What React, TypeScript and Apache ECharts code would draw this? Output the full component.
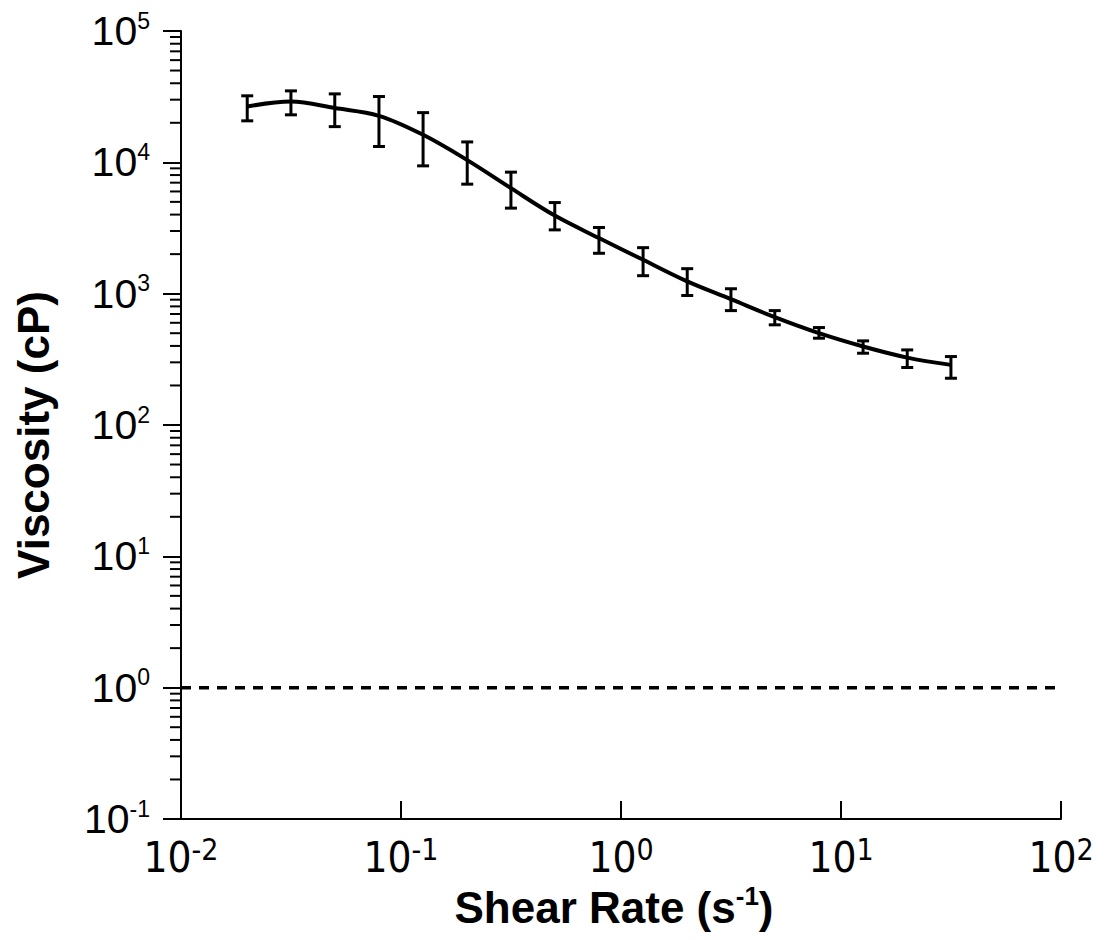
import React, { useEffect, useRef } from "react";
import * as echarts from "echarts";

// Shear rate (s^-1) of each measured point
const SHEAR_RATE = [0.02, 0.0316, 0.05, 0.0794, 0.126, 0.2, 0.316, 0.5, 0.794, 1.26, 2, 3.16, 5, 7.94, 12.6, 20, 31.6];
// Mean viscosity (cP)
const VISCOSITY = [26600, 29000, 25900, 22600, 16200, 10400, 6360, 3930, 2650, 1810, 1240, 908, 662, 500, 396, 326, 287];
// Error bar upper / lower ends (cP)
const ERR_HIGH = [32100, 35000, 33200, 31700, 23900, 14300, 8420, 4940, 3190, 2240, 1550, 1090, 743, 552, 437, 373, 332];
const ERR_LOW = [20700, 23000, 18700, 13200, 9400, 6820, 4480, 3060, 2030, 1370, 968, 743, 579, 458, 352, 274, 227];
// Reference line (water, 1 cP) across the x range
const REF_X = [0.01, 100];
const REF_Y = [1, 1];
// Axis ranges
const X_RANGE = [0.01, 100];
const Y_RANGE = [0.1, 100000];
// Log minor ticks on the y axis
const Y_DECADES = [0.1, 1, 10, 100, 1000, 10000];
const MINOR_MULTIPLES = [2, 3, 4, 5, 6, 7, 8, 9];

const FONT = "'Liberation Sans', Arial, Helvetica, sans-serif";
const NARROW = "'Liberation Sans Narrow', 'DejaVu Sans Condensed', 'Arial Narrow', sans-serif";

const expOf = (v: number) => Math.round(Math.log10(v));

export default function App() {
  const ref = useRef<HTMLDivElement | null>(null);

  useEffect(() => {
    if (!ref.current) return;
    const chart = echarts.init(ref.current, null, { renderer: "svg" });

    const lineData = SHEAR_RATE.map((x, i) => [x, VISCOSITY[i]]);
    const errData = SHEAR_RATE.map((x, i) => [x, ERR_LOW[i], ERR_HIGH[i]]);
    const minorData: number[][] = [];
    Y_DECADES.forEach((d) => MINOR_MULTIPLES.forEach((m) => minorData.push([X_RANGE[0], d * m])));

    chart.setOption({
      animation: false,
      backgroundColor: "#ffffff",
      grid: { left: 181, right: 47, top: 31, bottom: 121, containLabel: false },
      xAxis: {
        type: "log",
        logBase: 10,
        min: X_RANGE[0],
        max: X_RANGE[1],
        interval: 1,
        name: "Shear Rate (s{sup|-1})",
        nameLocation: "middle",
        nameGap: 62,
        nameTextStyle: {
          fontFamily: FONT,
          fontSize: 44,
          fontWeight: "bold",
          color: "#000",
          lineHeight: 50,
          padding: [0, 14, 0, 0],
          rich: {
            sup: { fontFamily: FONT, fontSize: 26, fontWeight: "bold", color: "#000", lineHeight: 34, verticalAlign: "top" },
          },
        },
        axisLine: { show: true, lineStyle: { color: "#000", width: 2 } },
        axisTick: { show: true, inside: true, length: 18, lineStyle: { color: "#000", width: 2 } },
        minorTick: { show: false },
        splitLine: { show: false },
        axisLabel: {
          margin: 15,
          formatter: (v: number) => `{b|10}{s|${expOf(v)}}`,
          rich: {
            b: { fontFamily: NARROW, fontSize: 42, color: "#000", lineHeight: 46 },
            s: { fontFamily: NARROW, fontSize: 30, color: "#000", lineHeight: 22, verticalAlign: "top" },
          },
        },
      },
      yAxis: {
        type: "log",
        logBase: 10,
        min: Y_RANGE[0],
        max: Y_RANGE[1],
        interval: 1,
        name: "Viscosity (cP)",
        nameLocation: "middle",
        nameGap: 123,
        nameRotate: 90,
        nameTextStyle: { fontFamily: FONT, fontSize: 44, fontWeight: "bold", color: "#000", lineHeight: 50, padding: [0, 20, 0, 0] },
        axisLine: { show: true, lineStyle: { color: "#000", width: 2 } },
        axisTick: { show: true, inside: false, length: 18, lineStyle: { color: "#000", width: 2 } },
        minorTick: { show: false },
        splitLine: { show: false },
        axisLabel: {
          margin: 31,
          formatter: (v: number) => `{b|10}{s|${expOf(v)}}`,
          rich: {
            b: { fontFamily: FONT, fontSize: 41, color: "#000", lineHeight: 44 },
            s: { fontFamily: FONT, fontSize: 23, color: "#000", lineHeight: 27, verticalAlign: "top" },
          },
        },
      },
      series: [
        {
          name: "minorTicks",
          type: "custom",
          clip: false,
          silent: true,
          data: minorData,
          renderItem: (_params: any, api: any) => {
            const p = api.coord([api.value(0), api.value(1)]);
            return {
              type: "line",
              shape: { x1: p[0] - 11, y1: p[1], x2: p[0], y2: p[1] },
              style: { stroke: "#000", lineWidth: 2 },
            };
          },
        },
        {
          name: "reference",
          type: "line",
          data: REF_X.map((x, i) => [x, REF_Y[i]]),
          symbol: "none",
          silent: true,
          lineStyle: { color: "#000", width: 3.5, type: [10, 8] },
          z: 2,
        },
        {
          name: "viscosity",
          type: "line",
          data: lineData,
          symbol: "none",
          smooth: 0.35,
          lineStyle: { color: "#000", width: 4 },
          z: 3,
        },
        {
          name: "error",
          type: "custom",
          clip: false,
          data: errData,
          encode: { x: 0, y: [1, 2] },
          z: 4,
          renderItem: (_params: any, api: any) => {
            const lo = api.coord([api.value(0), api.value(1)]);
            const hi = api.coord([api.value(0), api.value(2)]);
            const hw = 6;
            const st = { stroke: "#000", lineWidth: 3 };
            return {
              type: "group",
              children: [
                { type: "line", shape: { x1: lo[0], y1: lo[1], x2: hi[0], y2: hi[1] }, style: st },
                { type: "line", shape: { x1: lo[0] - hw, y1: lo[1], x2: lo[0] + hw, y2: lo[1] }, style: st },
                { type: "line", shape: { x1: hi[0] - hw, y1: hi[1], x2: hi[0] + hw, y2: hi[1] }, style: st },
              ],
            };
          },
        },
      ],
    });

    return () => chart.dispose();
  }, []);

  return (
    <div
      ref={ref}
      style={{ position: "fixed", left: 0, top: 0, width: 1108, height: 940, background: "#fff" }}
    />
  );
}
